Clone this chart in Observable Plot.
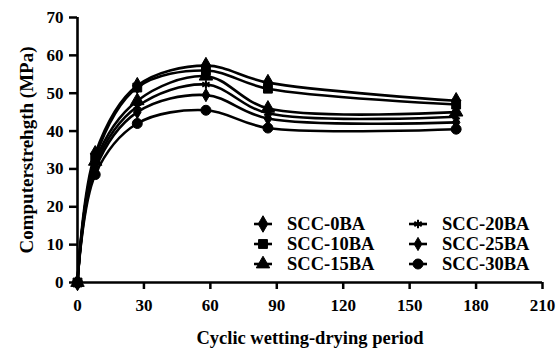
<!DOCTYPE html>
<html>
<head>
<meta charset="utf-8">
<script src="https://cdn.jsdelivr.net/npm/d3@7"></script>
<script src="https://cdn.jsdelivr.net/npm/@observablehq/plot@0.6"></script>
<style>
  html, body { margin: 0; padding: 0; background: white; }
  #chart { width: 558px; height: 349px; }
  #chart svg text { font-family: "Liberation Serif", "Times New Roman", serif; }
</style>
</head>
<body>
<div id="chart"></div>
<script>
// Data
const periods = [0, 8, 27, 58, 86, 171];
const seriesNames = ["SCC-0BA", "SCC-10BA", "SCC-15BA", "SCC-20BA", "SCC-25BA", "SCC-30BA"];
const scc0BA  = [0, 34.0, 52.0, 57.3, 52.8, 48.0];
const scc10BA = [0, 33.0, 51.5, 56.0, 51.2, 47.0];
const scc15BA = [0, 32.0, 48.0, 54.5, 46.0, 45.0];
const scc20BA = [0, 31.0, 46.5, 52.3, 44.7, 43.8];
const scc25BA = [0, 30.0, 45.0, 49.5, 43.3, 42.3];
const scc30BA = [0, 28.5, 42.0, 45.5, 40.8, 40.5];
const xTicks = [0, 30, 60, 90, 120, 150, 180, 210];
const yTicks = [0, 10, 20, 30, 40, 50, 60, 70];
const symbols = ["diamond", "square", "triangle", "asterisk", "diamond", "circle"];

const values = [scc0BA, scc10BA, scc15BA, scc20BA, scc25BA, scc30BA];
const rows = [];
seriesNames.forEach((s, i) => periods.forEach((p, j) => rows.push({series: s, period: p, value: values[i][j]})));

const font = "'Liberation Serif', 'Times New Roman', serif";

const chart = Plot.plot({
  width: 558,
  height: 349,
  marginLeft: 77,
  marginRight: 16,
  marginTop: 17,
  marginBottom: 67,
  style: {fontFamily: font, fontSize: "17px", fontWeight: "bold", color: "black", background: "white"},
  x: {domain: [0, 210]},
  y: {domain: [0, 70]},
  symbol: {domain: seriesNames, range: symbols},
  marks: [
    Plot.line(rows, {x: "period", y: "value", z: "series", curve: "catmull-rom", stroke: "black", strokeWidth: 2.6}),
    Plot.dot(rows.filter(d => d.series !== "SCC-25BA" && d.series !== "SCC-20BA"),
      {x: "period", y: "value", symbol: "series", fill: "black", stroke: "black", strokeWidth: 1, r: 5}),
    Plot.dot(rows.filter(d => d.series === "SCC-25BA"),
      {x: "period", y: "value", symbol: "series", fill: "black", stroke: "black", strokeWidth: 1, r: 4}),
    Plot.dot(rows.filter(d => d.series === "SCC-20BA"),
      {x: "period", y: "value", symbol: "series", fill: "none", stroke: "black", strokeWidth: 2, r: 4}),
    Plot.ruleY([0], {stroke: "black", strokeWidth: 2.6}),
    Plot.ruleX([0], {stroke: "black", strokeWidth: 2.6}),
    Plot.axisX({ticks: xTicks, tickSize: 7, tickPadding: 9, strokeWidth: 2.5, fontSize: 17, label: null}),
    Plot.axisX({ticks: [], label: "Cyclic wetting-drying period", labelAnchor: "center", labelArrow: "none", labelOffset: 61, fontSize: 18.5}),
    Plot.axisY({ticks: yTicks, tickSize: 8, tickPadding: 6, strokeWidth: 2.5, fontSize: 17, label: null}),
    Plot.axisY({ticks: [], label: "Computerstrehgth (MPa)", labelAnchor: "center", labelArrow: "none", labelOffset: 58, fontSize: 19})
  ]
});

document.getElementById("chart").appendChild(chart);

// Legend drawn inside the plot area (two columns, three rows)
const svg = d3.select(chart.tagName.toLowerCase() === "svg" ? chart : chart.querySelector("svg"));
const leg = svg.append("g").attr("font-size", 18.5).attr("font-weight", "bold").attr("text-anchor", "start");
const colX = [263, 418];
const rowY = [224, 244, 264];
const symMap = {diamond: d3.symbolDiamond, square: d3.symbolSquare, triangle: d3.symbolTriangle, asterisk: d3.symbolAsterisk, circle: d3.symbolCircle};
seriesNames.forEach((name, i) => {
  const cx = colX[Math.floor(i / 3)];
  const cy = rowY[i % 3];
  const g = leg.append("g").attr("transform", `translate(${cx},${cy})`);
  g.append("line").attr("x1", -9).attr("x2", 9).attr("stroke", "black").attr("stroke-width", 2.6);
  const sym = symbols[i];
  const r = name === "SCC-25BA" ? 4 : (name === "SCC-20BA" ? 4 : 5);
  const path = d3.symbol(symMap[sym], Math.PI * r * r)();
  if (sym === "asterisk") {
    g.append("path").attr("d", path).attr("fill", "none").attr("stroke", "black").attr("stroke-width", 2);
  } else {
    g.append("path").attr("d", path).attr("fill", "black").attr("stroke", "black").attr("stroke-width", 1);
  }
  g.append("text").attr("x", 24).attr("dy", "0.35em").attr("fill", "black").attr("text-anchor", "start").text(name);
});
</script>
</body>
</html>
